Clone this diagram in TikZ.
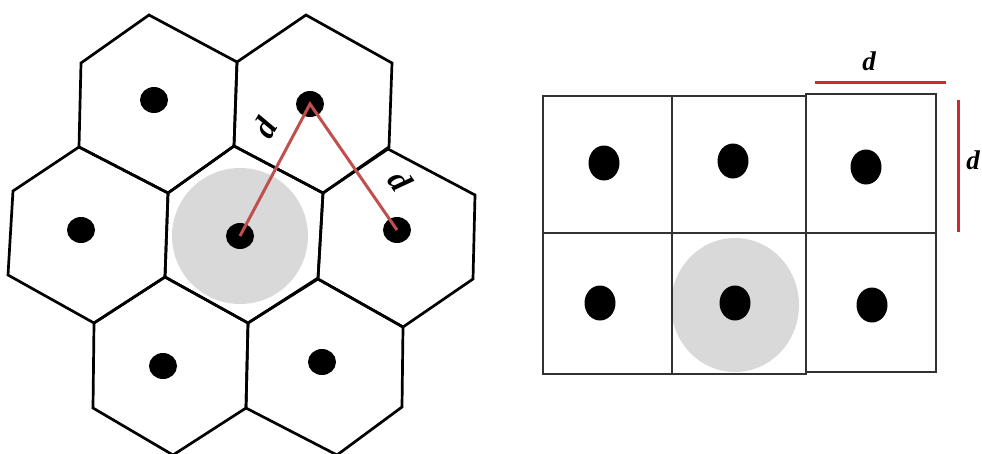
\documentclass[tikz,border=0pt]{standalone}
\usepackage{fontspec}
\setmainfont{Liberation Serif}
\usetikzlibrary{shapes.geometric}
\definecolor{linkred}{RGB}{192,80,77}
\definecolor{dimred}{RGB}{212,40,40}
\definecolor{zone}{RGB}{217,217,217}
\definecolor{gridline}{RGB}{50,50,50}
\tikzset{
  cell/.style={draw=black, line width=2.7pt, line join=miter},
  sqcell/.style={draw=gridline, line width=2.6pt},
  dot/.style={ellipse, fill=black, inner sep=0pt, minimum width=28pt, minimum height=26pt},
  sqdot/.style={ellipse, fill=black, inner sep=0pt, minimum width=31pt, minimum height=35pt},
  link/.style={draw=linkred, line width=3pt},
  dim/.style={draw=dimred, line width=3pt},
  lbl/.style={inner sep=0pt, font=\fontsize{27}{27}\selectfont\bfseries\itshape},
  biglbl/.style={inner sep=0pt, font=\fontsize{33}{33}\selectfont\bfseries\itshape}
}
\begin{document}
\begin{tikzpicture}[x=1pt, y=-1pt]
\useasboundingbox (0,0) rectangle (982,453);

% ---------- hexagonal layout ----------
\fill[zone] (240,236) circle (68);

\draw[cell] (149,15) -- (237,62) -- (234,146) -- (168,193) -- (79,147) -- (81,63) -- cycle;
\draw[cell] (306,15) -- (392,63) -- (389,147) -- (323,193) -- (234,146) -- (237,62) -- cycle;
\draw[cell] (234,146) -- (323,193) -- (318,278) -- (248,323) -- (165,277) -- (168,193) -- cycle;
\draw[cell] (79,147) -- (168,193) -- (165,277) -- (94,323) -- (8,275) -- (13,191) -- cycle;
\draw[cell] (388,149) -- (475,195) -- (473,279) -- (403,327) -- (318,279) -- (323,193) -- cycle;
\draw[cell] (165,277) -- (248,323) -- (246,408) -- (173,455) -- (93,408) -- (94,323) -- cycle;
\draw[cell] (318,279) -- (403,327) -- (402,407) -- (337,455) -- (246,408) -- (248,323) -- cycle;

\node[dot] (htl) at (154,100) {};
\node[dot] (htr) at (310,104) {};
\node[dot] (hl)  at (81,230)  {};
\node[dot] (hc)  at (240,236) {};
\node[dot] (hr)  at (397,230) {};
\node[dot] (hbl) at (163,366) {};
\node[dot] (hbr) at (322,362) {};

\draw[link] (hc.center) -- (htr.center) -- (hr.center);
\node[biglbl, rotate=60]  (dl1) at (265,128) {d};
\node[biglbl, rotate=-55] (dl2) at (400,181) {d};

% ---------- square layout ----------
\fill[zone] (735,305) ellipse (64 and 67);

\draw[sqcell] (543,96)  rectangle (672,233);
\draw[sqcell] (672,96)  rectangle (806,233);
\draw[sqcell] (806,94)  rectangle (936,233);
\draw[sqcell] (543,233) rectangle (672,374);
\draw[sqcell] (672,233) rectangle (806,374);
\draw[sqcell] (806,233) rectangle (936,372);

\node[sqdot] (s1) at (604,163) {};
\node[sqdot] (s2) at (733,161) {};
\node[sqdot] (s3) at (866,167) {};
\node[sqdot] (s4) at (600,303) {};
\node[sqdot] (s5) at (735,303) {};
\node[sqdot] (s6) at (872,305) {};

\coordinate (hA) at (815,82);
\coordinate (hB) at (946,82);
\coordinate (vA) at (958,100);
\coordinate (vB) at (958,232);
\draw[dim] (hA) -- (hB);
\draw[dim] (vA) -- (vB);
\node[lbl] (dh) at (869,61) {d};
\node[lbl] (dv) at (973,160) {d};
\end{tikzpicture}
\end{document}
